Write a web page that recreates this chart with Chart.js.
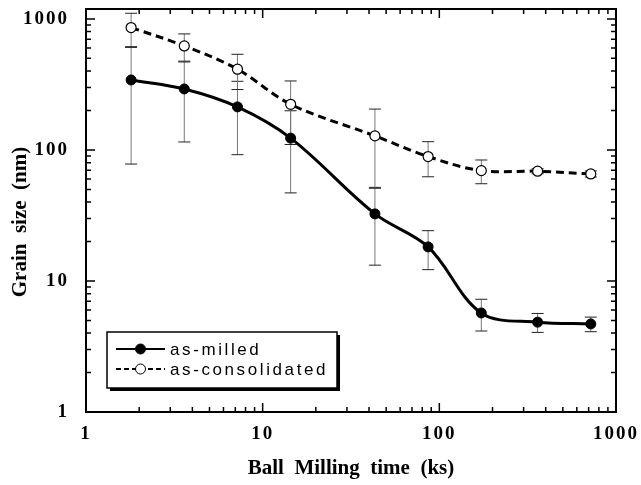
<!DOCTYPE html>
<html>
<head>
<meta charset="utf-8">
<script src="https://cdn.jsdelivr.net/npm/chart.js@4.4.1/dist/chart.umd.min.js"></script>
<style>
  html, body { margin: 0; padding: 0; background: #fff; }
  #wrap { width: 641px; height: 485px; }
</style>
</head>
<body>
<div id="wrap"><canvas id="myChart" width="641" height="485"></canvas></div>
<script>
// ball milling time (ks)
const millTime = [1.8, 3.6, 7.2, 14.4, 43.2, 86.4, 172.8, 360, 720];

// grain size (nm) + error bars
const asMilled = [342, 292, 213, 123, 32.5, 18.2, 5.7, 4.85, 4.7];
const asMilledErr = [264, 177, 121, 76, 19.3, 6, 1.55, 0.8, 0.6];
const asConsolidated = [859, 622, 413, 223, 128, 89, 69.5, 68.8, 65.6];
const asConsolidatedErr = [245, 146, 124, 113, 77, 26.6, 14.3, 3, 3.5];

const xTicks = [1, 10, 100, 1000];
const xTickLabels = ['1', '10', '100', '1000'];
const yTicks = [1, 10, 100, 1000];
const yTickLabels = ['1', '10', '100', '1000'];

const xTitle = 'Ball  Milling  time  (ks)';
const yTitle = 'Grain  size  (nm)';

// minor + major log ticks between min and max
function logTicks(min, max) {
  const out = [];
  for (let d = 1; d <= max; d *= 10) {
    for (let m = 1; m < 10; m++) {
      const v = d * m;
      if (v >= min && v <= max) out.push({ v: v, major: m === 1 });
    }
  }
  return out;
}

const framePlugin = {
  id: 'framePlugin',
  beforeDraw(chart) {
    chart.ctx.letterSpacing = '2px';
  },
  beforeDatasetsDraw(chart) {
    const ctx = chart.ctx, xs = chart.scales.x, ys = chart.scales.y;
    ctx.save();
    ctx.letterSpacing = '0px';
    chart.data.datasets.forEach(ds => {
      ds.values.forEach((v, i) => {
        const e = ds.errors[i];
        const x = xs.getPixelForValue(millTime[i]);
        const yTop = ys.getPixelForValue(v + e);
        const yBot = ys.getPixelForValue(Math.max(v - e, 0.01));
        ctx.strokeStyle = '#777';
        ctx.lineWidth = 1;
        ctx.beginPath();
        ctx.moveTo(x, yTop); ctx.lineTo(x, yBot);
        ctx.stroke();
        ctx.strokeStyle = '#222';
        ctx.beginPath();
        ctx.moveTo(x - 6, yTop); ctx.lineTo(x + 6, yTop);
        ctx.moveTo(x - 6, yBot); ctx.lineTo(x + 6, yBot);
        ctx.stroke();
      });
    });
    ctx.restore();
  },
  afterDraw(chart) {
    const ctx = chart.ctx, xs = chart.scales.x, ys = chart.scales.y;
    const a = chart.chartArea;
    ctx.save();
    ctx.letterSpacing = '0px';
    ctx.strokeStyle = '#000';

    // frame
    ctx.lineWidth = 2;
    ctx.strokeRect(a.left, a.top, a.right - a.left, a.bottom - a.top);

    // inward ticks on all four sides
    ctx.lineWidth = 1.5;
    ctx.beginPath();
    logTicks(xs.min, xs.max).forEach(t => {
      const x = xs.getPixelForValue(t.v);
      const len = t.major ? 9 : 5;
      ctx.moveTo(x, a.bottom); ctx.lineTo(x, a.bottom - len);
      ctx.moveTo(x, a.top); ctx.lineTo(x, a.top + len);
    });
    logTicks(ys.min, ys.max).forEach(t => {
      const y = ys.getPixelForValue(t.v);
      const len = t.major ? 9 : 5;
      ctx.moveTo(a.left, y); ctx.lineTo(a.left + len, y);
      ctx.moveTo(a.right, y); ctx.lineTo(a.right - len, y);
    });
    ctx.stroke();

    // axis titles
    ctx.fillStyle = '#000';
    ctx.font = 'bold 21px "Liberation Serif"';
    ctx.textAlign = 'center';
    ctx.textBaseline = 'middle';
    ctx.fillText(xTitle, (a.left + a.right) / 2, 469);
    ctx.save();
    ctx.translate(21, 222);
    ctx.rotate(-Math.PI / 2);
    ctx.fillText(yTitle, 0, 0);
    ctx.restore();

    // legend box with shadow
    const bx = 107, by = 332, bw = 230, bh = 56;
    ctx.fillStyle = '#000';
    ctx.fillRect(bx + 3, by + 3, bw, bh);
    ctx.fillStyle = '#fff';
    ctx.fillRect(bx, by, bw, bh);
    ctx.lineWidth = 1.5;
    ctx.strokeRect(bx, by, bw, bh);

    chart.data.datasets.forEach((ds, i) => {
      const y = 349 + i * 20;
      ctx.strokeStyle = '#000';
      ctx.lineWidth = 2;
      ctx.setLineDash(ds.borderDash ? [5, 3] : []);
      ctx.beginPath();
      ctx.moveTo(116, y); ctx.lineTo(165, y);
      ctx.stroke();
      ctx.setLineDash([]);
      ctx.beginPath();
      ctx.arc(140.5, y, 5, 0, Math.PI * 2);
      ctx.fillStyle = ds.pointBackgroundColor;
      ctx.fill();
      ctx.lineWidth = 1;
      ctx.stroke();
      ctx.fillStyle = '#000';
      ctx.font = '17px "Liberation Sans"';
      ctx.letterSpacing = '2.6px';
      ctx.textAlign = 'left';
      ctx.fillText(ds.label, 170, y + 1);
      ctx.letterSpacing = '0px';
    });
    ctx.restore();
  }
};

const ctx = document.getElementById('myChart');

new Chart(ctx, {
  type: 'line',
  data: {
    datasets: [
      {
        label: 'as-milled',
        data: millTime.map((t, i) => ({ x: t, y: asMilled[i] })),
        values: asMilled,
        errors: asMilledErr,
        borderColor: '#000',
        borderWidth: 3,
        pointRadius: 5,
        pointBorderWidth: 1,
        pointBackgroundColor: '#000',
        pointBorderColor: '#000',
        tension: 0.35
      },
      {
        label: 'as-consolidated',
        data: millTime.map((t, i) => ({ x: t, y: asConsolidated[i] })),
        values: asConsolidated,
        errors: asConsolidatedErr,
        borderColor: '#000',
        borderWidth: 3,
        borderDash: [8, 5],
        pointRadius: 5,
        pointBorderWidth: 1.2,
        pointBackgroundColor: '#fff',
        pointBorderColor: '#000',
        tension: 0.35
      }
    ]
  },
  options: {
    responsive: false,
    animation: false,
    devicePixelRatio: 1,
    layout: { padding: { top: 9, right: 25, left: 0, bottom: 0 } },
    plugins: { legend: { display: false }, tooltip: { enabled: false } },
    scales: {
      x: {
        type: 'logarithmic',
        min: 1,
        max: 1000,
        grid: { display: false },
        border: { display: false },
        afterBuildTicks: s => { s.ticks = xTicks.map(v => ({ value: v })); },
        afterFit: s => { s.height = 73; s.paddingLeft = 0; s.paddingRight = 0; },
        ticks: {
          autoSkip: false,
          maxRotation: 0,
          padding: 5,
          color: '#000',
          font: { family: '"Liberation Serif"', weight: 'bold', size: 19, lineHeight: 1 },
          callback: (v, i) => xTickLabels[i]
        }
      },
      y: {
        type: 'logarithmic',
        min: 1,
        max: 1190,
        grid: { display: false },
        border: { display: false },
        afterBuildTicks: s => { s.ticks = yTicks.map(v => ({ value: v })); },
        afterFit: s => { s.width = 86; s.paddingTop = 0; s.paddingBottom = 0; },
        ticks: {
          autoSkip: false,
          padding: 9,
          color: '#000',
          font: { family: '"Liberation Serif"', weight: 'bold', size: 19, lineHeight: 1 },
          callback: (v, i) => yTickLabels[i]
        }
      }
    }
  },
  plugins: [framePlugin]
});
</script>
</body>
</html>
